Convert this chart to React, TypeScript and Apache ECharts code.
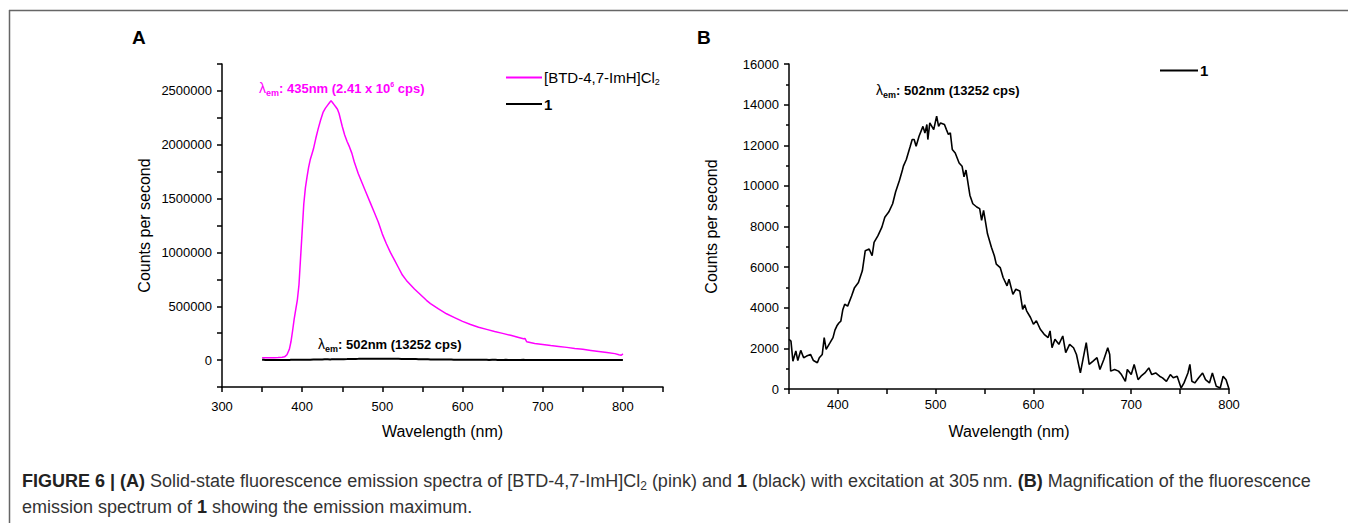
import React, { useEffect, useRef } from "react";
import * as echarts from "echarts";

// ---------- data ----------
const pinkWavelength = [350, 355, 360, 365, 370, 375, 378, 381, 384, 386, 388, 390, 392, 394, 396, 398, 400, 402, 404, 406, 408, 410, 412, 414, 417, 420, 423, 426, 429, 432, 434, 436, 438, 440, 442, 444, 446, 448, 450, 453, 456, 459, 462, 465, 470, 475, 480, 485, 490, 495, 500, 505, 510, 515, 520, 525, 530, 535, 540, 545, 550, 555, 560, 570, 580, 590, 600, 610, 620, 630, 640, 650, 660, 670, 676, 678, 680, 690, 700, 710, 720, 730, 740, 750, 760, 770, 780, 790, 795, 798, 800];
const pinkCounts = [22000, 22000, 22000, 22000, 23000, 26000, 30000, 50000, 100000, 170000, 270000, 380000, 470000, 560000, 700000, 950000, 1200000, 1450000, 1600000, 1700000, 1790000, 1860000, 1910000, 1960000, 2060000, 2150000, 2230000, 2300000, 2340000, 2370000, 2390000, 2410000, 2390000, 2370000, 2350000, 2330000, 2290000, 2230000, 2170000, 2090000, 2030000, 1980000, 1920000, 1840000, 1730000, 1640000, 1550000, 1460000, 1370000, 1280000, 1170000, 1080000, 1000000, 930000, 860000, 790000, 740000, 700000, 660000, 625000, 590000, 555000, 525000, 475000, 430000, 395000, 360000, 330000, 305000, 285000, 265000, 248000, 230000, 210000, 198000, 200000, 170000, 155000, 145000, 135000, 127000, 118000, 108000, 100000, 90000, 80000, 70000, 60000, 50000, 45000, 58000];

const blackWavelength = [350, 352, 354, 357, 359, 362, 365, 368, 372, 375, 379, 381, 384, 386, 388, 392, 395, 397, 399, 401, 403, 405, 407, 410, 414, 417, 421, 425, 428, 432, 435, 437, 441, 445, 448, 452, 456, 459, 463, 466, 467, 470, 474, 476, 478, 480, 483, 487, 489, 491, 492, 494, 498, 501, 503, 505, 509, 511, 513, 515, 517, 520, 524, 527, 529, 531, 535, 538, 542, 545, 547, 549, 553, 557, 560, 562, 566, 569, 573, 575, 579, 582, 586, 589, 591, 593, 597, 600, 603, 607, 611, 615, 617, 619, 622, 626, 630, 633, 637, 641, 644, 648, 651, 654, 657, 661, 665, 668, 672, 676, 678, 679, 683, 687, 690, 694, 696, 700, 703, 707, 710, 714, 718, 721, 725, 729, 732, 736, 740, 743, 747, 751, 754, 758, 760, 762, 765, 769, 773, 776, 780, 783, 787, 791, 794, 797, 800];
const blackCounts = [2450, 2360, 1370, 1870, 1400, 1900, 1540, 1620, 1700, 1400, 1290, 1540, 1700, 2530, 1950, 2280, 2530, 2900, 3110, 3250, 3340, 3900, 4170, 4080, 4580, 4990, 5240, 5820, 6810, 6890, 6560, 7220, 7550, 7970, 8460, 8710, 9120, 9700, 10280, 10780, 10970, 11300, 11950, 12280, 12280, 11950, 12440, 12930, 12600, 13020, 12280, 13100, 12770, 13430, 12930, 13100, 13020, 12770, 12530, 12610, 11790, 11620, 11130, 10970, 10450, 10780, 9540, 9120, 8960, 8880, 8300, 8790, 7640, 6980, 6560, 6150, 5980, 5490, 5080, 5400, 4660, 4910, 4830, 3920, 4150, 3850, 3520, 3190, 3360, 2940, 2690, 2530, 2860, 2030, 2450, 2200, 2610, 1790, 2200, 2030, 1700, 790, 1540, 2280, 1210, 1370, 1540, 960, 1450, 2030, 1700, 880, 960, 880, 710, 380, 960, 710, 1210, 460, 630, 790, 1040, 710, 790, 630, 550, 380, 710, 550, 630, 50, 300, 790, 1210, 380, 300, 550, 790, 460, 300, 790, 130, 50, 630, 460, 0];

const pinkName = "[BTD-4,7-ImH]Cl2";
const blackName = "1";

const captionLine1 =
  "{b|FIGURE 6 | (A)}{n| Solid-state fluorescence emission spectra of [BTD-4,7-ImH]Cl}{s|2}{n| (pink) and }{b|1}{n| (black) with excitation at 305\u2009nm. }{b|(B)}{n| Magnification of the fluorescence}";
const captionLine2 = "{n|emission spectrum of }{b|1}{n| showing the emission maximum.}";

const FONT = "'Liberation Sans', Arial, Helvetica, sans-serif";
const PINK = "#ff00ff";

function annotationRich(color: string, size: number) {
  return {
    l: { fill: color, fontSize: size + 1, fontFamily: FONT },
    b: { fill: color, fontSize: size, fontWeight: "bold", fontFamily: FONT },
    sub: { fill: color, fontSize: size - 4, fontWeight: "bold", fontFamily: FONT, padding: [9, 0, 0, 0] },
    sup: { fill: color, fontSize: size - 6, fontWeight: "bold", fontFamily: FONT, padding: [0, 0, 8, 0] },
  };
}

export default function App() {
  const ref = useRef<HTMLDivElement>(null);
  useEffect(() => {
    if (!ref.current) return;
    const chart = echarts.init(ref.current, undefined, { renderer: "svg" });
    const pinkData = pinkWavelength.map((w, i) => [w, pinkCounts[i]]);
    const blackData = blackWavelength.map((w, i) => [w, blackCounts[i]]);

    const axisCommon = {
      axisLine: { show: true, onZero: false, lineStyle: { color: "#000", width: 1.5 } },
      axisTick: { show: true, inside: false, length: 5, lineStyle: { color: "#000", width: 1.5 } },
      splitLine: { show: false },
      axisLabel: { color: "#000", fontSize: 13, fontFamily: FONT, margin: 10 },
      nameTextStyle: { color: "#000", fontSize: 16, fontFamily: FONT },
      nameLocation: "middle" as const,
    };

    chart.setOption({
      animation: false,
      backgroundColor: "#fff",
      grid: [
        { left: 222, top: 64, width: 441, height: 323, containLabel: false },
        { left: 789, top: 64, width: 440, height: 325, containLabel: false },
      ],
      xAxis: [
        {
          ...axisCommon,
          type: "value",
          gridIndex: 0,
          min: 300,
          max: 850,
          interval: 50,
          name: "Wavelength (nm)",
          nameGap: 36,
          axisLabel: {
            ...axisCommon.axisLabel,
            margin: 13,
            formatter: (v: number) => (v % 100 === 0 && v <= 800 ? String(v) : ""),
          },
        },
        {
          ...axisCommon,
          type: "value",
          gridIndex: 1,
          min: 350,
          max: 800,
          interval: 50,
          name: "Wavelength (nm)",
          nameGap: 34,
          axisLabel: {
            ...axisCommon.axisLabel,
            margin: 9,
            formatter: (v: number) => (v % 100 === 0 ? String(v) : ""),
          },
        },
      ],
      yAxis: [
        {
          ...axisCommon,
          type: "value",
          gridIndex: 0,
          min: -250000,
          max: 2750000,
          interval: 250000,
          name: "Counts per second",
          nameGap: 70,
          axisLabel: {
            ...axisCommon.axisLabel,
            formatter: (v: number) => (v % 500000 === 0 ? String(v) : ""),
          },
        },
        {
          ...axisCommon,
          type: "value",
          gridIndex: 1,
          min: 0,
          max: 16000,
          interval: 2000,
          name: "Counts per second",
          nameGap: 70,
          axisLabel: {
            ...axisCommon.axisLabel,
            formatter: (v: number) => String(v),
          },
          minorTick: { show: true, splitNumber: 2, length: 3, lineStyle: { color: "#000", width: 1.5 } },
        },
      ],
      legend: [
        {
          orient: "vertical",
          left: 501,
          top: 65,
          itemWidth: 36,
          itemHeight: 2,
          itemGap: 10,
          itemStyle: { borderWidth: 0 },
          icon: "rect",
          data: [pinkName, blackName],
          selectedMode: false,
          textStyle: {
            color: "#000",
            fontSize: 15,
            fontFamily: FONT,
            padding: [0, 0, 0, -3],
            rich: {
              n: { fontSize: 15, fontFamily: FONT, color: "#000" },
              b: { fontSize: 15, fontFamily: FONT, fontWeight: "bold", color: "#000" },
              s: { fontSize: 9, fontFamily: FONT, color: "#000", padding: [9, 0, 0, 0] },
            },
          },
          formatter: (name: string) =>
            name === pinkName ? "{n|[BTD-4,7-ImH]Cl}{s|2}" : "{b|1}",
        },
        {
          orient: "vertical",
          left: 1155,
          top: 58,
          itemWidth: 38,
          itemHeight: 2,
          icon: "rect",
          data: [blackName],
          selectedMode: false,
          textStyle: { color: "#000", fontSize: 15, fontFamily: FONT, fontWeight: "bold", padding: [0, 0, 0, -3] },
        },
      ],
      series: [
        {
          name: pinkName,
          type: "line",
          xAxisIndex: 0,
          yAxisIndex: 0,
          data: pinkData,
          showSymbol: false,
          symbol: "none",
          color: PINK,
          lineStyle: { color: PINK, width: 1.5 },
        },
        {
          name: blackName,
          type: "line",
          xAxisIndex: 0,
          yAxisIndex: 0,
          data: blackData,
          showSymbol: false,
          symbol: "none",
          color: "#000",
          lineStyle: { color: "#000", width: 2 },
        },
        {
          name: blackName,
          type: "line",
          xAxisIndex: 1,
          yAxisIndex: 1,
          data: blackData,
          showSymbol: false,
          symbol: "none",
          color: "#000",
          lineStyle: { color: "#000", width: 1.6 },
        },
      ],
      graphic: [
        { type: "line", shape: { x1: 9, y1: 10.5, x2: 1348, y2: 10.5 }, style: { stroke: "#666", lineWidth: 1.5 } },
        { type: "line", shape: { x1: 9.5, y1: 10, x2: 9.5, y2: 523 }, style: { stroke: "#666", lineWidth: 1.5 } },
        {
          type: "text",
          x: 132,
          y: 37,
          style: { text: "A", fill: "#000", font: `bold 19px ${FONT}`, verticalAlign: "middle" },
        },
        {
          type: "text",
          x: 697,
          y: 37,
          style: { text: "B", fill: "#000", font: `bold 19px ${FONT}`, verticalAlign: "middle" },
        },
        {
          type: "text",
          x: 259,
          y: 88,
          style: {
            text: "{l|\u03bb}{sub|em}{b|: 435nm (2.41 x 10}{sup|6}{b| cps)}",
            verticalAlign: "middle",
            rich: annotationRich(PINK, 13),
          },
        },
        {
          type: "text",
          x: 318,
          y: 344,
          style: {
            text: "{l|\u03bb}{sub|em}{b|: 502nm (13252 cps)}",
            verticalAlign: "middle",
            rich: annotationRich("#000", 13),
          },
        },
        {
          type: "text",
          x: 876,
          y: 90,
          style: {
            text: "{l|\u03bb}{sub|em}{b|: 502nm (13252 cps)}",
            verticalAlign: "middle",
            rich: annotationRich("#000", 13),
          },
        },
        {
          type: "text",
          x: 22,
          y: 481,
          style: {
            text: captionLine1,
            verticalAlign: "middle",
            rich: {
              b: { fill: "#222", fontSize: 18, fontWeight: "bold", fontFamily: FONT },
              n: { fill: "#333", fontSize: 18, fontFamily: FONT },
              s: { fill: "#333", fontSize: 12, fontFamily: FONT, padding: [10, 0, 0, 0] },
            },
          },
        },
        {
          type: "text",
          x: 22,
          y: 507,
          style: {
            text: captionLine2,
            verticalAlign: "middle",
            rich: {
              b: { fill: "#222", fontSize: 18, fontWeight: "bold", fontFamily: FONT },
              n: { fill: "#333", fontSize: 18, fontFamily: FONT },
            },
          },
        },
      ],
    });
    return () => chart.dispose();
  }, []);
  return (
    <div
      ref={ref}
      style={{ position: "absolute", left: 0, top: 0, width: 1348, height: 523, background: "#fff" }}
    />
  );
}
